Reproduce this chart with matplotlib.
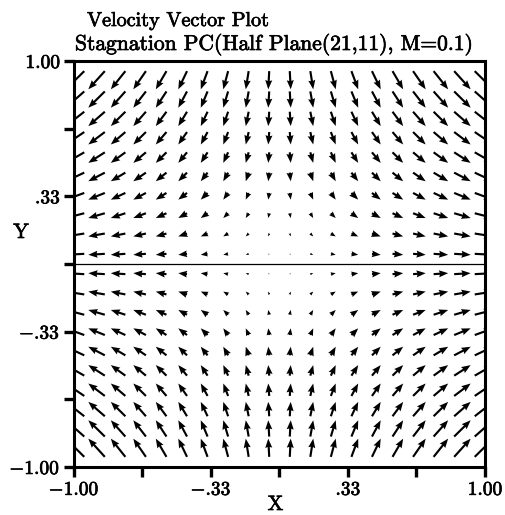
import numpy as np
import matplotlib
matplotlib.use("Agg")
import matplotlib.pyplot as plt
import matplotlib.patheffects as pe

plt.rcParams['font.family'] = ['cmr10', 'DejaVu Serif']
plt.rcParams['mathtext.fontset'] = 'cm'
plt.rcParams['axes.unicode_minus'] = False

# cell centres of the (21,11) half-plane grid, mirrored to the full plane
x_pts = [-0.95, -0.85, -0.75, -0.65, -0.55, -0.45, -0.35, -0.25, -0.15, -0.05,
         0.05, 0.15, 0.25, 0.35, 0.45, 0.55, 0.65, 0.75, 0.85, 0.95]
y_pts = [-0.95, -0.85, -0.75, -0.65, -0.55, -0.45, -0.35, -0.25, -0.15, -0.05,
         0.05, 0.15, 0.25, 0.35, 0.45, 0.55, 0.65, 0.75, 0.85, 0.95]
# horizontal velocity for each column, vertical velocity for each row
u_col = [-0.95, -0.85, -0.75, -0.65, -0.55, -0.45, -0.35, -0.25, -0.15, -0.05,
         0.05, 0.15, 0.25, 0.35, 0.45, 0.55, 0.65, 0.75, 0.85, 0.95]
v_row = [0.95, 0.85, 0.75, 0.65, 0.55, 0.45, 0.35, 0.25, 0.15, 0.05,
         -0.05, -0.15, -0.25, -0.35, -0.45, -0.55, -0.65, -0.75, -0.85, -0.95]

tick_vals = [-1.0, -2/3, -1/3, 0.0, 1/3, 2/3, 1.0]
tick_labels = ['$-$1.00', '', '$-$.33', '', '.33', '', '1.00']

X, Y = np.meshgrid(x_pts, y_pts)
U, V = np.meshgrid(u_col, v_row)

bold = [pe.withStroke(linewidth=0.5, foreground='black')]

fig = plt.figure(figsize=(5.05, 5.15), dpi=100)
ax = fig.add_axes([0.1465, 0.0932, 0.8139, 0.7884])

ax.quiver(X, Y, U, V, angles='xy', scale_units='xy', scale=10.6,
          pivot='tail', color='black', width=0.0052,
          headwidth=3.3, headlength=4.3, headaxislength=3.9, minlength=0.4)
ax.axhline(0, color='black', lw=0.9)

ax.set_xlim(-1, 1)
ax.set_ylim(-1, 1)
ax.set_xticks(tick_vals)
ax.set_xticklabels(tick_labels)
ax.set_yticks(tick_vals)
ax.set_yticklabels(tick_labels)
ax.tick_params(direction='out', length=7, width=2.4, labelsize=14, pad=3)
for lab in ax.get_xticklabels() + ax.get_yticklabels():
    lab.set_path_effects(bold)
for s in ax.spines.values():
    s.set_linewidth(2.2)

fig.text(0.5455, 1 / 515, 'X', fontsize=15, ha='center', va='bottom', path_effects=bold)
fig.text(21 / 505, 1 - 233 / 515, 'Y', fontsize=15, ha='center', va='center', path_effects=bold)

fig.text(87 / 505, 1 - 26 / 515, 'Velocity Vector Plot', fontsize=14.5,
         ha='left', va='baseline', path_effects=bold)
fig.text(75 / 505, 1 - 50 / 515, 'Stagnation PC(Half Plane(21,11), M=0.1)',
         fontsize=15.5, ha='left', va='baseline', path_effects=bold)

fig.savefig('out.png', dpi=100)
